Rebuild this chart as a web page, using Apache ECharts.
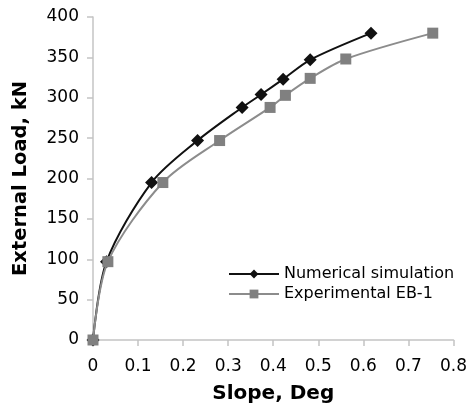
<!DOCTYPE html>
<html>
<head>
<meta charset="utf-8">
<script src="https://cdn.jsdelivr.net/npm/echarts@6/dist/echarts.min.js"></script>
<style>
    html, body { margin: 0; padding: 0; background: #fff; }
    #chart { width: 470px; height: 412px; }
</style>
</head>
<body>
<div id="chart"></div>
<script>
// slope (deg) vs external load (kN)
const numSlope = [0, 0.03, 0.13, 0.232, 0.331, 0.373, 0.422, 0.482, 0.617];
const numLoad = [0, 97, 195, 247, 288, 304, 323, 347, 380];
const expSlope = [0, 0.033, 0.155, 0.281, 0.393, 0.427, 0.482, 0.561, 0.754];
const expLoad = [0, 97, 195, 247, 288, 303, 324, 348, 380];

const numName = 'Numerical simulation';
const expName = 'Experimental EB-1';

const pairs = (xs, ys) => xs.map((x, i) => [x, ys[i]]);

const axisGray = '#c4c4c4';
const font = 'DejaVu Sans, Verdana, sans-serif';

const myChart = echarts.init(document.getElementById('chart'));

const option = {
    animation: false,
    textStyle: { fontFamily: font },
    legend: {
        data: [numName, expName],
        orient: 'vertical',
        left: 228,
        top: 266,
        padding: 0,
        itemWidth: 50,
        itemHeight: 11,
        itemGap: 4,
        textStyle: { color: '#000', fontSize: 16, fontFamily: font }
    },
    grid: {
        left: 93,
        right: 15,
        top: 17,
        bottom: 72
    },
    xAxis: {
        type: 'value',
        min: 0,
        max: 0.8,
        interval: 0.1,
        name: 'Slope, Deg',
        nameLocation: 'middle',
        nameGap: 44,
        nameTextStyle: { color: '#000', fontSize: 20, fontWeight: 'bold', fontFamily: font },
        axisLine: { lineStyle: { color: axisGray, width: 1.5 } },
        axisTick: { show: true, length: 6, lineStyle: { color: axisGray, width: 1.5 } },
        axisLabel: { color: '#000', fontSize: 17, margin: 18, fontFamily: font },
        splitLine: { show: false }
    },
    yAxis: {
        type: 'value',
        min: 0,
        max: 400,
        interval: 50,
        name: 'External Load, kN',
        nameLocation: 'middle',
        nameGap: 62,
        nameTextStyle: { color: '#000', fontSize: 19.5, fontWeight: 'bold', fontFamily: font },
        axisLine: { show: true, lineStyle: { color: axisGray, width: 1.5 } },
        axisTick: { show: true, length: 6, lineStyle: { color: axisGray, width: 1.5 } },
        axisLabel: { color: '#000', fontSize: 17, margin: 14, fontFamily: font },
        splitLine: { show: false }
    },
    series: [
        {
            name: numName,
            type: 'line',
            smooth: 0.3,
            symbol: 'diamond',
            symbolSize: 13,
            itemStyle: { color: '#111' },
            lineStyle: { color: '#111', width: 2 },
            data: pairs(numSlope, numLoad),
            z: 2
        },
        {
            name: expName,
            type: 'line',
            smooth: 0.3,
            symbol: 'rect',
            symbolSize: 11,
            itemStyle: { color: '#808080' },
            lineStyle: { color: '#8c8c8c', width: 2 },
            data: pairs(expSlope, expLoad),
            z: 3
        }
    ]
};

myChart.setOption(option);
</script>
</body>
</html>
